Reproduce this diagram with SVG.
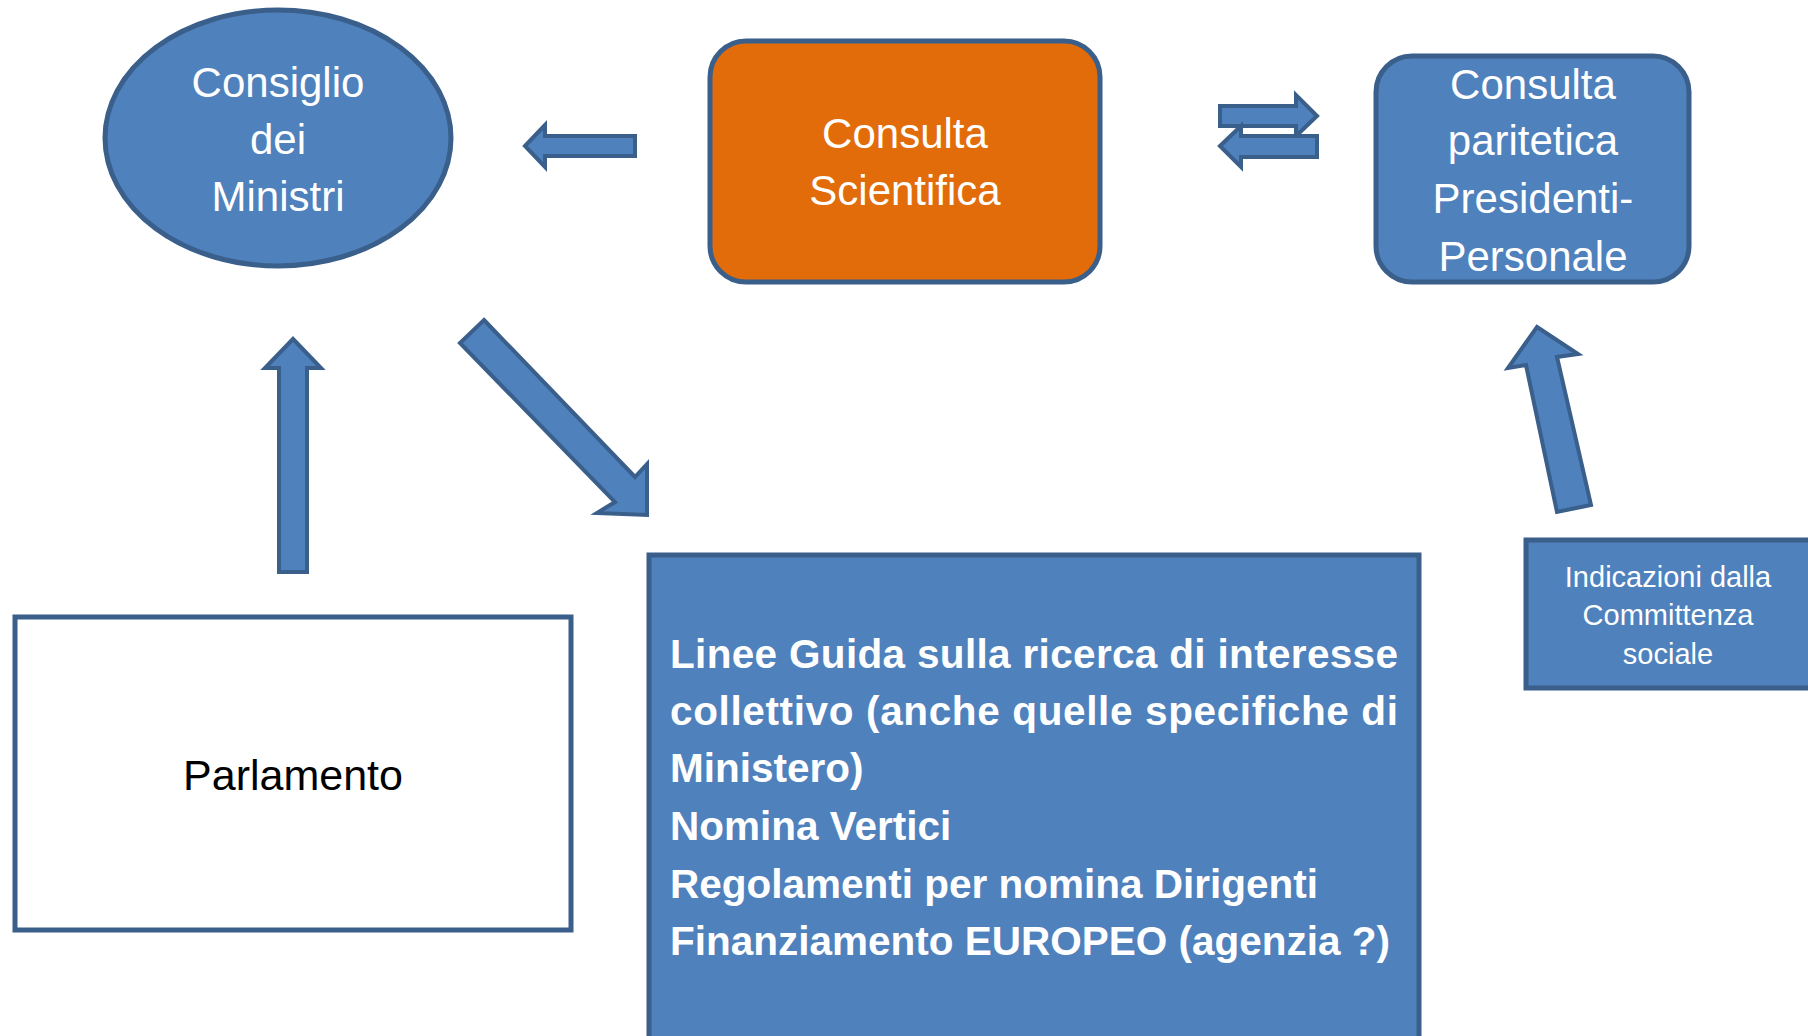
<svg xmlns="http://www.w3.org/2000/svg" width="1808" height="1036" viewBox="0 0 1808 1036">
<style>
.shape{fill:#4F81BD;stroke:#3A5F8B;stroke-width:5;stroke-linejoin:miter}
.arrow{fill:#4F81BD;stroke:#3A5F8B;stroke-width:4;stroke-linejoin:miter}
.wt{font-family:"Liberation Sans",Arial,sans-serif;fill:#FFFFFF;text-anchor:middle}
.bt{font-family:"Liberation Sans",Arial,sans-serif;fill:#FFFFFF;font-weight:bold;font-size:40.5px}
</style>
<rect width="1808" height="1036" fill="#FFFFFF"/>
<g id="consiglio">
<ellipse class="shape" cx="278" cy="138" rx="173" ry="128"/>
<text class="wt" font-size="42" x="278" y="97">Consiglio</text>
<text class="wt" font-size="42" x="278" y="154">dei</text>
<text class="wt" font-size="42" x="278" y="211">Ministri</text>
</g>
<g id="consulta-scientifica">
<rect x="710" y="41" width="390" height="241" rx="36" fill="#E36C0A" stroke="#3A5F8B" stroke-width="5"/>
<text class="wt" font-size="42" x="905" y="148">Consulta</text>
<text class="wt" font-size="42" x="905" y="205">Scientifica</text>
</g>
<g id="consulta-paritetica">
<rect class="shape" x="1376" y="56" width="313" height="226" rx="36"/>
<text class="wt" font-size="42" x="1533" y="99">Consulta</text>
<text class="wt" font-size="42" x="1533" y="155">paritetica</text>
<text class="wt" font-size="42" x="1533" y="213">Presidenti-</text>
<text class="wt" font-size="42" x="1533" y="271">Personale</text>
</g>
<g id="parlamento">
<rect x="15" y="617" width="556" height="313" fill="#FFFFFF" stroke="#3A5F8B" stroke-width="5"/>
<text font-family="Liberation Sans, Arial, sans-serif" font-size="43" fill="#000000" text-anchor="middle" x="293" y="790">Parlamento</text>
</g>
<g id="linee-guida">
<rect class="shape" x="649" y="555" width="770" height="500"/>
<text class="bt" x="670" y="668" textLength="728" lengthAdjust="spacing">Linee Guida sulla ricerca di interesse</text>
<text class="bt" x="670" y="725" textLength="728" lengthAdjust="spacing">collettivo (anche quelle specifiche di</text>
<text class="bt" x="670" y="782">Ministero)</text>
<text class="bt" x="670" y="840">Nomina Vertici</text>
<text class="bt" x="670" y="898">Regolamenti per nomina Dirigenti</text>
<text class="bt" x="670" y="955">Finanziamento EUROPEO (agenzia ?)</text>
</g>
<g id="indicazioni">
<rect class="shape" x="1526" y="540" width="300" height="148"/>
<text class="wt" font-size="29" x="1668" y="587">Indicazioni dalla</text>
<text class="wt" font-size="29" x="1668" y="625">Committenza</text>
<text class="wt" font-size="29" x="1668" y="664">sociale</text>
</g>
<g id="connectors">
<polygon class="arrow" points="525,146 545,125 545,136 635,136 635,156 545,156 545,167"/>
<polygon class="arrow" points="1317,116 1296,95 1296,106 1220,106 1220,126 1296,126 1296,136"/>
<polygon class="arrow" points="1220,146 1241,126 1241,136 1317,136 1317,157 1241,157 1241,167"/>
<polygon class="arrow" points="293,339 321,368 307,368 307,572 279,572 279,368 265,368"/>
<polygon class="arrow" points="484,320 635,477 647,464 647,515 597,513 615,502 460,343"/>
<polygon class="arrow" points="1537,327 1578,354 1557,357 1591,505 1557,512 1526,365 1508,368"/>
</g>
</svg>
